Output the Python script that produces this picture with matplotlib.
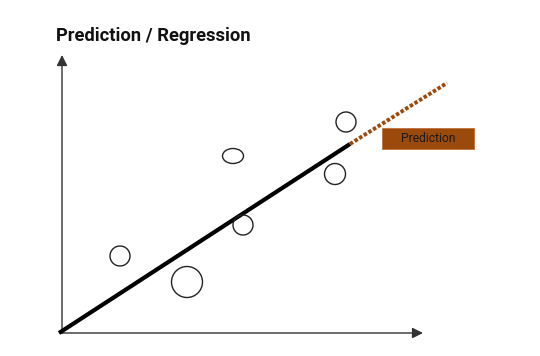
import matplotlib.pyplot as plt
from matplotlib.patches import Ellipse, Rectangle

# observed points (x, y) plus marker size (width, height), one unit = 10px
pt_x = [6.0, 12.7, 18.3, 17.3, 27.5, 28.6]
pt_y = [7.7, 5.1, 10.8, 17.7, 15.9, 21.1]
pt_w = [2.0, 3.1, 2.0, 2.1, 2.1, 2.0]
pt_h = [2.0, 3.1, 2.0, 1.5, 2.1, 2.0]

# regression line and its extension
fit_x = [-0.1, 29.0]
fit_y = [0.0, 18.9]
pred_x = [29.0, 38.7]
pred_y = [18.9, 25.0]

label_text = "Prediction"
title_text = "Prediction / Regression"

brown = "#9c4a0c"

fig = plt.figure(figsize=(5.4, 3.56), dpi=100)
ax = fig.add_axes([0, 0, 1, 1])
ax.set_xlim(-6, 48)
ax.set_ylim(-2.3, 33.3)
ax.axis("off")

# axes with arrow heads
arrow = dict(arrowstyle="-|>", color="#333333", lw=1.0, mutation_scale=16,
             shrinkA=0, shrinkB=0)
ax.annotate("", xy=(36.3, 0), xytext=(0.0, 0), arrowprops=arrow)
ax.annotate("", xy=(0.2, 27.8), xytext=(0.2, 0), arrowprops=arrow)

# fitted line, then dotted prediction part
ax.plot(fit_x, fit_y, color="black", lw=3.0, solid_capstyle="butt", zorder=3)
ax.plot(pred_x, pred_y, color=brown, lw=2.8, dashes=(0.9, 0.5), zorder=3)

for x, y, w, h in zip(pt_x, pt_y, pt_w, pt_h):
    ax.add_patch(Ellipse((x, y), w, h, facecolor="none", edgecolor="#222222",
                         lw=1.0, zorder=4))

# label box
ax.add_patch(Rectangle((32.2, 18.4), 9.2, 2.1, facecolor=brown,
                       edgecolor="#c0703a", lw=0.6, zorder=4))
ax.text(36.8, 19.4, label_text, ha="center", va="center", fontsize=8.7,
        family="Roboto", color="#1a1a1a", zorder=5)

fig.text(56 / 540, 1 - 41 / 356, title_text, fontsize=13.2, fontweight="bold",
         family="Roboto", color="#111111", va="baseline", ha="left")

fig.savefig("out.png", dpi=100)
